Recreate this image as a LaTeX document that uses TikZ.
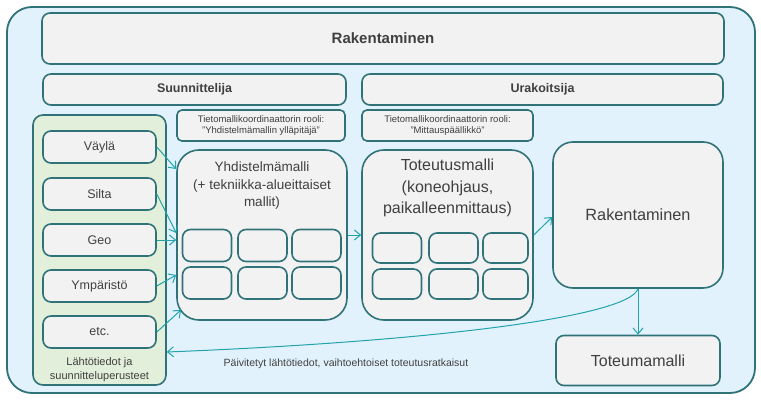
\documentclass[tikz,border=0pt]{standalone}
\usepackage{fontspec}
\setmainfont{Liberation Sans}
\usepackage{tikz}
\usetikzlibrary{arrows.meta}

\definecolor{rimteal}{HTML}{2F7378}
\definecolor{arrteal}{HTML}{22A3AB}
\definecolor{skyfill}{HTML}{E2F2FC}
\definecolor{greenfill}{HTML}{E2EFDA}
\definecolor{boxgray}{HTML}{F2F2F2}
\definecolor{txtgray}{HTML}{404040}

\begin{document}
\begin{tikzpicture}[x=1pt, y=-1pt,
  box/.style={draw=rimteal, line width=1.6pt, fill=boxgray, rounded corners=8,
    text=txtgray, inner sep=0pt, align=center},
  cell/.style={box, minimum width=49, minimum height=32},
  srcbox/.style={box, minimum width=113, minimum height=32, font=\fontsize{12.5}{14}\selectfont},
  flow/.style={draw=arrteal, line width=1pt, -{Straight Barb[length=6pt,width=10pt]}}]
\useasboundingbox (0,0) rectangle (761,401);

\draw[draw=rimteal, line width=1.8pt, fill=skyfill, rounded corners=25] (7,7) rectangle (755,393);

\node[box, minimum width=682, minimum height=51, font=\bfseries\fontsize{15}{18}\selectfont] (top) at (383,38.5) {Rakentaminen};
\node[box, minimum width=303, minimum height=31, font=\bfseries\fontsize{12.5}{15}\selectfont] (suun) at (194.5,89.5) {Suunnittelija};
\node[box, minimum width=361, minimum height=31, font=\bfseries\fontsize{12.5}{15}\selectfont] (urak) at (542.5,89.5) {Urakoitsija};

\node[box, rounded corners=5, minimum width=168, minimum height=31, font=\fontsize{9.5}{11.5}\selectfont] (rooli1) at (261,125.5) {Tietomallikoordinaattorin rooli:\\"Yhdistelmämallin ylläpitäjä"};
\node[box, rounded corners=5, minimum width=171, minimum height=31, font=\fontsize{9.5}{11.5}\selectfont] (rooli2) at (447.5,125.5) {Tietomallikoordinaattorin rooli:\\"Mittauspäällikkö"};

% lahtotiedot
\node[box, fill=greenfill, rounded corners=10, minimum width=133, minimum height=270] (lahto) at (99.5,250) {};
\node[text=txtgray, align=center, font=\fontsize{11}{14}\selectfont] (lahtotxt) at (99.5,370) {Lähtötiedot ja\\suunnitteluperusteet};
\node[srcbox] (vayla) at (99.5,147) {Väylä};
\node[srcbox] (silta) at (99.5,194) {Silta};
\node[srcbox] (geo) at (99.5,240) {Geo};
\node[srcbox] (ymp) at (99.5,286) {Ympäristö};
\node[srcbox] (etc) at (99.5,332) {etc.};

% yhdistelmamalli
\node[box, rounded corners=22, minimum width=170, minimum height=170] (yhd) at (262,235) {};
\node[text=txtgray, align=center, font=\fontsize{13.5}{17.5}\selectfont] (yhdtxt) at (262,186) {Yhdistelmämalli\\(+ tekniikka-alueittaiset\\mallit)};
\node[cell] (y1) at (207,245.5) {};
\node[cell] (y2) at (262.5,245.5) {};
\node[cell] (y3) at (316.5,245.5) {};
\node[cell] (y4) at (207,283) {};
\node[cell] (y5) at (262.5,283) {};
\node[cell] (y6) at (316.5,283) {};

% toteutusmalli
\node[box, rounded corners=22, minimum width=171, minimum height=170] (tot) at (447.5,235) {};
\node[text=txtgray, align=center, font=\fontsize{16}{21.5}\selectfont] (tottxt) at (447.5,188) {Toteutusmalli\\(koneohjaus,\\paikalleenmittaus)};
\node[cell, minimum height=30] (t1) at (397,248) {};
\node[cell, minimum height=30] (t2) at (453.5,248) {};
\node[cell, minimum height=30, minimum width=45] (t3) at (505.5,248) {};
\node[cell, minimum height=30] (t4) at (397,284) {};
\node[cell, minimum height=30] (t5) at (453.5,284) {};
\node[cell, minimum height=30, minimum width=45] (t6) at (505.5,284) {};

\node[box, rounded corners=20, minimum width=170, minimum height=146, font=\fontsize{16.3}{19}\selectfont] (rak) at (638,215) {Rakentaminen};
\node[box, rounded corners=8, minimum width=164, minimum height=50, font=\fontsize{16}{19}\selectfont] (toteuma) at (638,360.5) {Toteumamalli};

\draw[flow] (vayla.east) -- (yhd.west |- 0,169);
\draw[flow] (silta.east) -- (yhd.west |- 0,233);
\draw[flow] (geo.east) -- (yhd.west |- 0,240);
\draw[flow] (ymp.east) -- (yhd.west |- 0,275);
\draw[flow] (etc.east) -- (181,310);
\draw[flow] (yhd.east |- 0,235) -- (tot.west |- 0,235);
\draw[flow] (tot.east |- 0,235) -- (rak.west |- 0,217);
\draw[flow] (rak.south) -- (toteuma.north);
\draw[flow] (rak.south) .. controls (628,318) and (420,342) .. (lahto.east |- 0,352);

\node[text=txtgray, font=\fontsize{10.5}{12}\selectfont] (paiv) at (346,364) {Päivitetyt lähtötiedot, vaihtoehtoiset toteutusratkaisut};
\end{tikzpicture}
\end{document}
